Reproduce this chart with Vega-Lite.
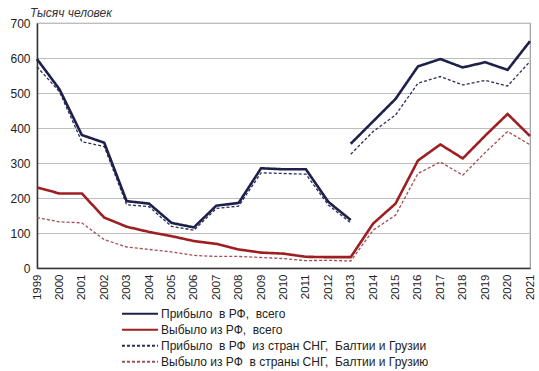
{
  "$schema": "https://vega.github.io/schema/vega-lite/v6.json",
  "width": 493,
  "height": 245,
  "autosize": {"type": "none"},
  "padding": {"left": 37, "top": 23, "right": 9, "bottom": 103},
  "background": "white",
  "config": {
    "font": "Liberation Sans",
    "view": {"stroke": "#9a9a9a", "strokeWidth": 1.2},
    "legend": {
      "title": null, "orient": "none", "legendX": 84, "legendY": 283,
      "symbolType": "stroke", "symbolSize": 1300, "symbolStrokeWidth": 1.8,
      "labelFontSize": 12, "labelColor": "#222222", "rowPadding": 0, "labelOffset": 2,
      "labelLimit": 400, "clipHeight": 15.5
    }
  },
  "title": {
    "text": "Тысяч человек",
    "anchor": "start",
    "dx": 20,
    "fontSize": 12,
    "fontStyle": "italic",
    "fontWeight": "normal",
    "color": "#333333",
    "offset": -3
  },
  "data": {
    "values": [
      {"year": "1999", "s": "A", "seg": "a", "v": 597},
      {"year": "2000", "s": "A", "seg": "a", "v": 511},
      {"year": "2001", "s": "A", "seg": "a", "v": 380},
      {"year": "2002", "s": "A", "seg": "a", "v": 358},
      {"year": "2003", "s": "A", "seg": "a", "v": 191},
      {"year": "2004", "s": "A", "seg": "a", "v": 184},
      {"year": "2005", "s": "A", "seg": "a", "v": 129},
      {"year": "2006", "s": "A", "seg": "a", "v": 116},
      {"year": "2007", "s": "A", "seg": "a", "v": 178},
      {"year": "2008", "s": "A", "seg": "a", "v": 186},
      {"year": "2009", "s": "A", "seg": "a", "v": 285},
      {"year": "2010", "s": "A", "seg": "a", "v": 282},
      {"year": "2011", "s": "A", "seg": "a", "v": 282},
      {"year": "2012", "s": "A", "seg": "a", "v": 189},
      {"year": "2013", "s": "A", "seg": "a", "v": 137},
      {"year": "2013", "s": "A", "seg": "b", "v": 355},
      {"year": "2014", "s": "A", "seg": "b", "v": 419},
      {"year": "2015", "s": "A", "seg": "b", "v": 483},
      {"year": "2016", "s": "A", "seg": "b", "v": 576},
      {"year": "2017", "s": "A", "seg": "b", "v": 597},
      {"year": "2018", "s": "A", "seg": "b", "v": 573},
      {"year": "2019", "s": "A", "seg": "b", "v": 588},
      {"year": "2020", "s": "A", "seg": "b", "v": 566},
      {"year": "2021", "s": "A", "seg": "b", "v": 648},

      {"year": "1999", "s": "C", "seg": "a", "v": 575},
      {"year": "2000", "s": "C", "seg": "a", "v": 504},
      {"year": "2001", "s": "C", "seg": "a", "v": 361},
      {"year": "2002", "s": "C", "seg": "a", "v": 347},
      {"year": "2003", "s": "C", "seg": "a", "v": 181},
      {"year": "2004", "s": "C", "seg": "a", "v": 175},
      {"year": "2005", "s": "C", "seg": "a", "v": 119},
      {"year": "2006", "s": "C", "seg": "a", "v": 108},
      {"year": "2007", "s": "C", "seg": "a", "v": 170},
      {"year": "2008", "s": "C", "seg": "a", "v": 177},
      {"year": "2009", "s": "C", "seg": "a", "v": 272},
      {"year": "2010", "s": "C", "seg": "a", "v": 270},
      {"year": "2011", "s": "C", "seg": "a", "v": 268},
      {"year": "2012", "s": "C", "seg": "a", "v": 180},
      {"year": "2013", "s": "C", "seg": "a", "v": 129},
      {"year": "2013", "s": "C", "seg": "b", "v": 325},
      {"year": "2014", "s": "C", "seg": "b", "v": 390},
      {"year": "2015", "s": "C", "seg": "b", "v": 437},
      {"year": "2016", "s": "C", "seg": "b", "v": 528},
      {"year": "2017", "s": "C", "seg": "b", "v": 547},
      {"year": "2018", "s": "C", "seg": "b", "v": 523},
      {"year": "2019", "s": "C", "seg": "b", "v": 536},
      {"year": "2020", "s": "C", "seg": "b", "v": 520},
      {"year": "2021", "s": "C", "seg": "b", "v": 590},

      {"year": "1999", "s": "B", "seg": "a", "v": 230},
      {"year": "2000", "s": "B", "seg": "a", "v": 213},
      {"year": "2001", "s": "B", "seg": "a", "v": 213},
      {"year": "2002", "s": "B", "seg": "a", "v": 144},
      {"year": "2003", "s": "B", "seg": "a", "v": 118},
      {"year": "2004", "s": "B", "seg": "a", "v": 103},
      {"year": "2005", "s": "B", "seg": "a", "v": 91},
      {"year": "2006", "s": "B", "seg": "a", "v": 77},
      {"year": "2007", "s": "B", "seg": "a", "v": 69},
      {"year": "2008", "s": "B", "seg": "a", "v": 53},
      {"year": "2009", "s": "B", "seg": "a", "v": 44},
      {"year": "2010", "s": "B", "seg": "a", "v": 41},
      {"year": "2011", "s": "B", "seg": "a", "v": 32},
      {"year": "2012", "s": "B", "seg": "a", "v": 31},
      {"year": "2013", "s": "B", "seg": "a", "v": 31},
      {"year": "2014", "s": "B", "seg": "a", "v": 127},
      {"year": "2015", "s": "B", "seg": "a", "v": 184},
      {"year": "2016", "s": "B", "seg": "a", "v": 307},
      {"year": "2017", "s": "B", "seg": "a", "v": 353},
      {"year": "2018", "s": "B", "seg": "a", "v": 313},
      {"year": "2019", "s": "B", "seg": "a", "v": 378},
      {"year": "2020", "s": "B", "seg": "a", "v": 440},
      {"year": "2021", "s": "B", "seg": "a", "v": 377},

      {"year": "1999", "s": "D", "seg": "a", "v": 144},
      {"year": "2000", "s": "D", "seg": "a", "v": 132},
      {"year": "2001", "s": "D", "seg": "a", "v": 129},
      {"year": "2002", "s": "D", "seg": "a", "v": 81},
      {"year": "2003", "s": "D", "seg": "a", "v": 60},
      {"year": "2004", "s": "D", "seg": "a", "v": 53},
      {"year": "2005", "s": "D", "seg": "a", "v": 46},
      {"year": "2006", "s": "D", "seg": "a", "v": 36},
      {"year": "2007", "s": "D", "seg": "a", "v": 33},
      {"year": "2008", "s": "D", "seg": "a", "v": 33},
      {"year": "2009", "s": "D", "seg": "a", "v": 30},
      {"year": "2010", "s": "D", "seg": "a", "v": 27},
      {"year": "2011", "s": "D", "seg": "a", "v": 21},
      {"year": "2012", "s": "D", "seg": "a", "v": 22},
      {"year": "2013", "s": "D", "seg": "a", "v": 20},
      {"year": "2014", "s": "D", "seg": "a", "v": 108},
      {"year": "2015", "s": "D", "seg": "a", "v": 151},
      {"year": "2016", "s": "D", "seg": "a", "v": 270},
      {"year": "2017", "s": "D", "seg": "a", "v": 303},
      {"year": "2018", "s": "D", "seg": "a", "v": 265},
      {"year": "2019", "s": "D", "seg": "a", "v": 330},
      {"year": "2020", "s": "D", "seg": "a", "v": 390},
      {"year": "2021", "s": "D", "seg": "a", "v": 352}
    ]
  },
  "transform": [
    {"lookup": "s", "from": {"data": {"values": [
      {"k": "A", "name": "Прибыло \u00a0в РФ, \u00a0всего"},
      {"k": "B", "name": "Выбыло из РФ, \u00a0всего"},
      {"k": "C", "name": "Прибыло \u00a0в РФ \u00a0из стран СНГ, \u00a0Балтии и Грузии"},
      {"k": "D", "name": "Выбыло из РФ \u00a0в страны СНГ, \u00a0Балтии и Грузию"}
    ]}, "key": "k", "fields": ["name"]}}
  ],
  "encoding": {
    "x": {
      "field": "year", "type": "ordinal",
      "scale": {"type": "point", "padding": 0},
      "axis": {
        "title": null, "labelAngle": -90, "labelFontSize": 11.5, "labelColor": "#222222",
        "ticks": false, "labelPadding": 6, "domainColor": "#333333", "domainWidth": 1.5,
        "grid": false
      }
    },
    "y": {
      "field": "v", "type": "quantitative",
      "scale": {"domain": [0, 700]},
      "axis": {
        "title": null, "values": [0, 100, 200, 300, 400, 500, 600, 700],
        "labelFontSize": 12, "labelColor": "#222222", "ticks": false, "labelPadding": 7,
        "domainColor": "#333333", "domainWidth": 1.5,
        "gridColor": "#bdbdbd", "gridWidth": 1.2
      }
    },
    "detail": {"field": "seg"},
    "color": {
      "field": "name", "type": "nominal",
      "scale": {
        "domain": ["Прибыло \u00a0в РФ, \u00a0всего", "Выбыло из РФ, \u00a0всего", "Прибыло \u00a0в РФ \u00a0из стран СНГ, \u00a0Балтии и Грузии", "Выбыло из РФ \u00a0в страны СНГ, \u00a0Балтии и Грузию"],
        "range": ["#1d2149", "#9e1f22", "#2a2f5a", "#a34d51"]
      },
      "legend": {}
    },
    "strokeDash": {
      "field": "name", "type": "nominal",
      "scale": {
        "domain": ["Прибыло \u00a0в РФ, \u00a0всего", "Выбыло из РФ, \u00a0всего", "Прибыло \u00a0в РФ \u00a0из стран СНГ, \u00a0Балтии и Грузии", "Выбыло из РФ \u00a0в страны СНГ, \u00a0Балтии и Грузию"],
        "range": [[1, 0], [1, 0], [3, 2], [3, 2]]
      },
      "legend": {}
    }
  },
  "layer": [
    {
      "transform": [{"filter": "datum.s === 'C' || datum.s === 'D'"}],
      "mark": {"type": "line", "strokeWidth": 1.3, "strokeJoin": "miter"}
    },
    {
      "transform": [{"filter": "datum.s === 'A' || datum.s === 'B'"}],
      "mark": {"type": "line", "strokeWidth": 2.6, "strokeJoin": "miter"}
    }
  ]
}
